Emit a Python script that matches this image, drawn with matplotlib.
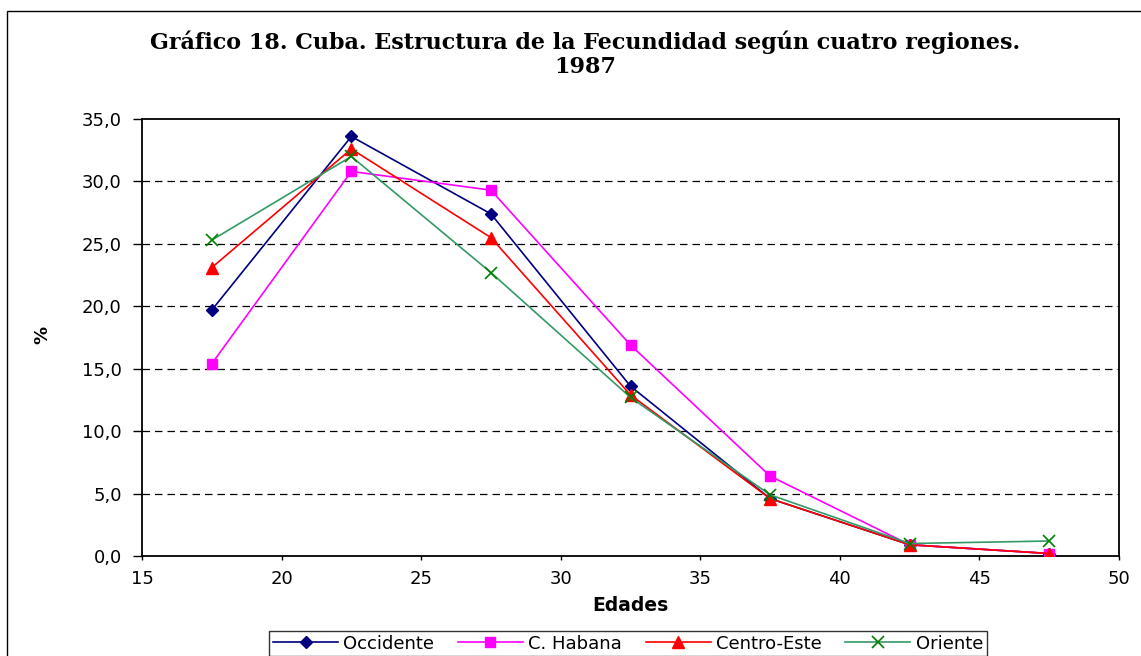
import matplotlib
matplotlib.use("Agg")
import matplotlib.pyplot as plt
from matplotlib.patches import Rectangle
from matplotlib.ticker import FuncFormatter

# data (age-group midpoints, % of total fertility)
edades = [17.5, 22.5, 27.5, 32.5, 37.5, 42.5, 47.5]
occidente = [19.7, 33.6, 27.4, 13.6, 4.6, 0.9, 0.2]
habana = [15.4, 30.8, 29.3, 16.9, 6.4, 0.9, 0.2]
centro_este = [23.1, 32.6, 25.5, 12.9, 4.6, 0.9, 0.2]
oriente = [25.3, 32.0, 22.7, 12.7, 4.9, 1.0, 1.2]

x_ticks = [15, 20, 25, 30, 35, 40, 45, 50]
y_ticks = [0, 5, 10, 15, 20, 25, 30, 35]

TICK_FONT = "DejaVu Sans"
TITLE_FONT = "DejaVu Serif"

fig = plt.figure(figsize=(11.41, 6.56), dpi=100)
fig.patch.set_facecolor("white")

# outer chart-area frame (left/top edges visible in the reference)
fig.patches.append(Rectangle((7 / 1141, -0.05), 1.2, 1 - 11 / 656 + 0.05,
                             transform=fig.transFigure, fill=False,
                             edgecolor="black", lw=1.0))

ax = fig.add_axes([142 / 1141, 1 - 556 / 656, (1119 - 142) / 1141, (556 - 119) / 656])

ax.plot(edades, occidente, color="#000080", lw=1.2, marker="D", ms=6.5,
        mfc="#000080", mec="#000080", label="Occidente", zorder=3)
ax.plot(edades, habana, color="#FF00FF", lw=1.2, marker="s", ms=7,
        mfc="#FF00FF", mec="#FF00FF", label="C. Habana", zorder=3)
ax.plot(edades, centro_este, color="#FF0000", lw=1.2, marker="^", ms=8.5,
        mfc="#FF0000", mec="#FF0000", label="Centro-Este", zorder=3)
ax.plot(edades, oriente, color="#339966", lw=1.2, marker="x", ms=8.5,
        mew=1.2, mec="#008000", label="Oriente", zorder=3)

ax.set_xlim(15, 50)
ax.set_ylim(0, 35)
ax.set_xticks(x_ticks)
ax.set_yticks(y_ticks)
ax.yaxis.set_major_formatter(FuncFormatter(lambda v, p: f"{v:.1f}".replace(".", ",")))

for y in y_ticks[1:-1]:
    ax.axhline(y, color="black", lw=0.9, ls=(0, (6, 4)), zorder=1)

for sp in ax.spines.values():
    sp.set_linewidth(1.3)
    sp.set_color("black")

ax.tick_params(axis="y", direction="out", length=6.5, width=1, pad=8)
ax.tick_params(axis="x", direction="out", length=3, width=1, pad=7)
for lab in ax.get_xticklabels() + ax.get_yticklabels():
    lab.set_fontfamily(TICK_FONT)
    lab.set_fontsize(13)

ax.set_xlabel("Edades", fontfamily=TICK_FONT, fontsize=13.5, fontweight="bold", labelpad=6)
fig.text(42 / 1141, 1 - 335 / 656, "%", rotation=90, ha="center", va="center",
         fontfamily=TICK_FONT, fontsize=13, fontweight="bold")

fig.text(585 / 1141, 1 - 42 / 656, "Gráfico 18. Cuba. Estructura de la Fecundidad según cuatro regiones.",
         ha="center", va="center", fontfamily=TITLE_FONT, fontsize=16, fontweight="bold")
fig.text(585 / 1141, 1 - 67 / 656, "1987",
         ha="center", va="center", fontfamily=TITLE_FONT, fontsize=16, fontweight="bold")

leg = fig.legend(loc="upper center", bbox_to_anchor=(628 / 1141, 1 - 631 / 656), ncol=4,
                 frameon=True, fancybox=False, handlelength=3.6, handletextpad=0.3,
                 columnspacing=1.3, borderpad=0.2, borderaxespad=0,
                 prop={"family": TICK_FONT, "size": 13})
leg.get_frame().set_edgecolor("black")
leg.get_frame().set_linewidth(1.0)

fig.savefig("out.png", dpi=100, facecolor="white")
